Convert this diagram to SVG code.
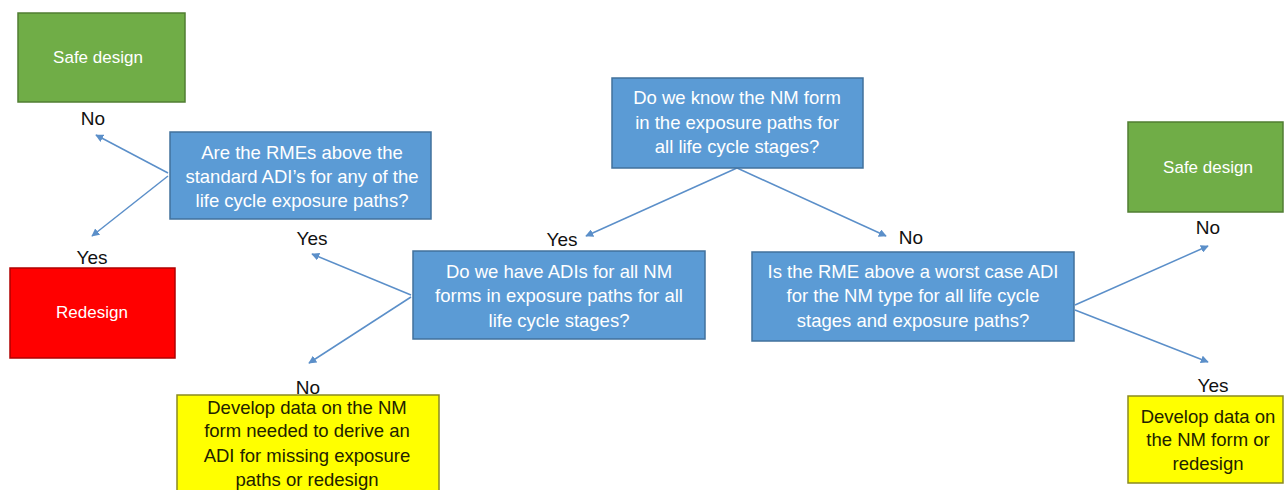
<svg xmlns="http://www.w3.org/2000/svg" width="1284" height="490" viewBox="0 0 1284 490">
<style>
.q{fill:#5B9BD5;stroke:#41719C;stroke-width:1.5}
.g{fill:#70AD47;stroke:#507E32;stroke-width:1.5}
.r{fill:#FF0000;stroke:#B00000;stroke-width:1.5}
.y{fill:#FFFF00;stroke:#8A8A20;stroke-width:1.5}
.t{font-family:"Liberation Sans",Arial,sans-serif;font-size:18.5px;fill:#ffffff;text-anchor:middle}
.ts{font-size:17px}
.ty{font-family:"Liberation Sans",Arial,sans-serif;font-size:18.5px;fill:#222200;text-anchor:middle}
.lb{font-family:"Liberation Sans",Arial,sans-serif;font-size:19px;fill:#111111;text-anchor:middle}
.c{stroke:#5B8FC9;stroke-width:1.5;fill:none;marker-end:url(#ah)}
</style>
<defs>
<marker id="ah" viewBox="0 0 10 10" refX="9" refY="5" markerWidth="8" markerHeight="8" markerUnits="userSpaceOnUse" orient="auto">
<path d="M0,0 L10,5 L0,10 z" fill="#5B8FC9"/>
</marker>
</defs>
<rect width="1284" height="490" fill="#ffffff"/>
<g id="connectors">
<line class="c" x1="168" y1="173" x2="96" y2="135"/>
<line class="c" x1="168" y1="176" x2="92" y2="236"/>
<line class="c" x1="737" y1="168" x2="586" y2="236"/>
<line class="c" x1="737" y1="168" x2="886" y2="236"/>
<line class="c" x1="411" y1="295" x2="312" y2="254"/>
<line class="c" x1="411" y1="297" x2="309" y2="363"/>
<line class="c" x1="1075" y1="305" x2="1208" y2="246"/>
<line class="c" x1="1075" y1="310" x2="1208" y2="362"/>
</g>
<g id="labels">
<text class="lb" x="93" y="125">No</text>
<text class="lb" x="92" y="264">Yes</text>
<text class="lb" x="312" y="245">Yes</text>
<text class="lb" x="308" y="394">No</text>
<text class="lb" x="562" y="246">Yes</text>
<text class="lb" x="911" y="244">No</text>
<text class="lb" x="1208" y="234">No</text>
<text class="lb" x="1213" y="392">Yes</text>
</g>
<g id="safe1">
<rect class="g" x="18" y="13" width="167" height="89"/>
<text class="t ts" x="98" y="63">Safe design</text>
</g>
<g id="redesign">
<rect class="r" x="10" y="268" width="165" height="90"/>
<text class="t ts" x="92" y="318">Redesign</text>
</g>
<g id="q1">
<rect class="q" x="170" y="132" width="261" height="87"/>
<text class="t" x="302" y="159">Are the RMEs above the</text>
<text class="t" x="302" y="183">standard ADI’s for any of the</text>
<text class="t" x="302" y="207">life cycle exposure paths?</text>
</g>
<g id="q0">
<rect class="q" x="612" y="78" width="251" height="90"/>
<text class="t" x="737" y="104">Do we know the NM form</text>
<text class="t" x="737" y="129">in the exposure paths for</text>
<text class="t" x="737" y="153">all life cycle stages?</text>
</g>
<g id="q2">
<rect class="q" x="413" y="251" width="292" height="88"/>
<text class="t" x="559" y="278">Do we have ADIs for all NM</text>
<text class="t" x="559" y="302">forms in exposure paths for all</text>
<text class="t" x="559" y="327">life cycle stages?</text>
</g>
<g id="q3">
<rect class="q" x="752" y="252" width="322" height="89"/>
<text class="t" x="913" y="278">Is the RME above a worst case ADI</text>
<text class="t" x="913" y="302">for the NM type for all life cycle</text>
<text class="t" x="913" y="327">stages  and exposure paths?</text>
</g>
<g id="safe2">
<rect class="g" x="1128" y="122" width="155" height="90"/>
<text class="t ts" x="1208" y="173">Safe design</text>
</g>
<g id="dev1">
<rect class="y" x="177" y="395" width="262" height="100"/>
<text class="ty" x="307" y="414">Develop data on the NM</text>
<text class="ty" x="307" y="437">form needed  to derive an</text>
<text class="ty" x="307" y="462">ADI for  missing exposure</text>
<text class="ty" x="307" y="486">paths or redesign</text>
</g>
<g id="dev2">
<rect class="y" x="1128" y="396" width="155" height="87"/>
<text class="ty" x="1208" y="423">Develop data on</text>
<text class="ty" x="1208" y="446">the NM form or</text>
<text class="ty" x="1208" y="470">redesign</text>
</g>
</svg>
